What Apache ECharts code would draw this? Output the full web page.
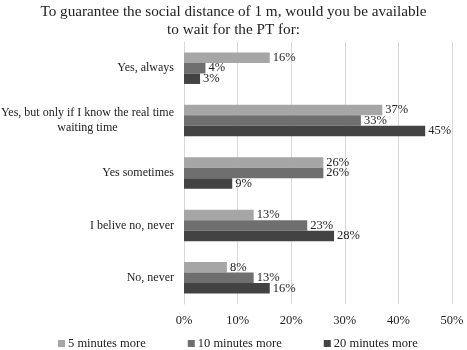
<!DOCTYPE html>
<html>
<head>
<meta charset="utf-8">
<script src="https://cdn.jsdelivr.net/npm/echarts@6/dist/echarts.min.js"></script>
<style>
  html, body { margin: 0; padding: 0; background: #fff; }
  #chart { width: 467px; height: 350px; }
</style>
</head>
<body>
<div id="chart"></div>
<script>
// Answer options, listed top to bottom
const categories = [
  'Yes, always',
  'Yes, but only if I know the real time\nwaiting time',
  'Yes sometimes',
  'I belive no, never',
  'No, never'
];
const seriesNames = ['5 minutes more', '10 minutes more', '20 minutes more'];
// Share of respondents (%) per option
const fiveMin   = [16, 37, 26, 13, 8];
const tenMin    = [4, 33, 26, 23, 13];
const twentyMin = [3, 45, 9, 28, 16];
const xTicks = [0, 10, 20, 30, 40, 50];

const colors = ['#a6a6a6', '#6f6f6f', '#434343'];
const serif = '"Liberation Serif", "DejaVu Serif", serif';

const chart = echarts.init(document.getElementById('chart'), null, { renderer: 'canvas' });

function makeSeries(name, data, color) {
  return {
    name: name,
    type: 'bar',
    data: data,
    barWidth: 10.5,
    barGap: '0%',
    itemStyle: { color: color },
    label: {
      show: true,
      position: 'right',
      distance: 3,
      formatter: '{c}%',
      fontFamily: serif,
      fontSize: 12.5,
      color: '#222'
    }
  };
}

chart.setOption({
  animation: false,
  textStyle: { fontFamily: serif },
  title: {
    text: 'To guarantee the social distance of 1 m, would you be available\nto wait for the PT for:',
    left: 'center',
    top: 0,
    padding: [3, 5, 5, 5],
    textStyle: { fontFamily: serif, fontSize: 15.2, fontWeight: 'normal', color: '#222', lineHeight: 18 }
  },
  color: colors,
  legend: {
    data: seriesNames,
    bottom: 0,
    left: 58,
    padding: 0,
    itemWidth: 7,
    itemHeight: 7,
    itemGap: 42,
    icon: 'rect',
    textStyle: { fontFamily: serif, fontSize: 12.5, color: '#222', padding: [0, 0, 0, -2] }
  },
  grid: { left: 184, right: 15, top: 42, bottom: 46, containLabel: false, outerBoundsMode: 'none' },
  xAxis: {
    type: 'value',
    min: xTicks[0],
    max: xTicks[xTicks.length - 1],
    interval: 10,
    axisLine: { show: false },
    axisTick: { show: false },
    splitLine: { show: true, lineStyle: { color: '#d9d9d9', width: 1 } },
    axisLabel: {
      formatter: '{value}%',
      fontFamily: serif,
      fontSize: 12.5,
      color: '#222',
      margin: 10
    }
  },
  yAxis: {
    type: 'category',
    data: categories,
    inverse: true,
    axisLine: { show: true, lineStyle: { color: '#d9d9d9', width: 1 } },
    axisTick: { show: false },
    axisLabel: {
      margin: 10,
      fontFamily: serif,
      fontSize: 12,
      color: '#222',
      lineHeight: 15,
      formatter: function (v) {
        return v.split('\n').map(function (line) { return '{c|' + line + '}'; }).join('\n');
      },
      rich: {
        c: { fontFamily: serif, fontSize: 12, color: '#222', lineHeight: 15, align: 'center' }
      }
    }
  },
  series: [
    makeSeries(seriesNames[0], fiveMin, colors[0]),
    makeSeries(seriesNames[1], tenMin, colors[1]),
    makeSeries(seriesNames[2], twentyMin, colors[2])
  ]
});
</script>
</body>
</html>
